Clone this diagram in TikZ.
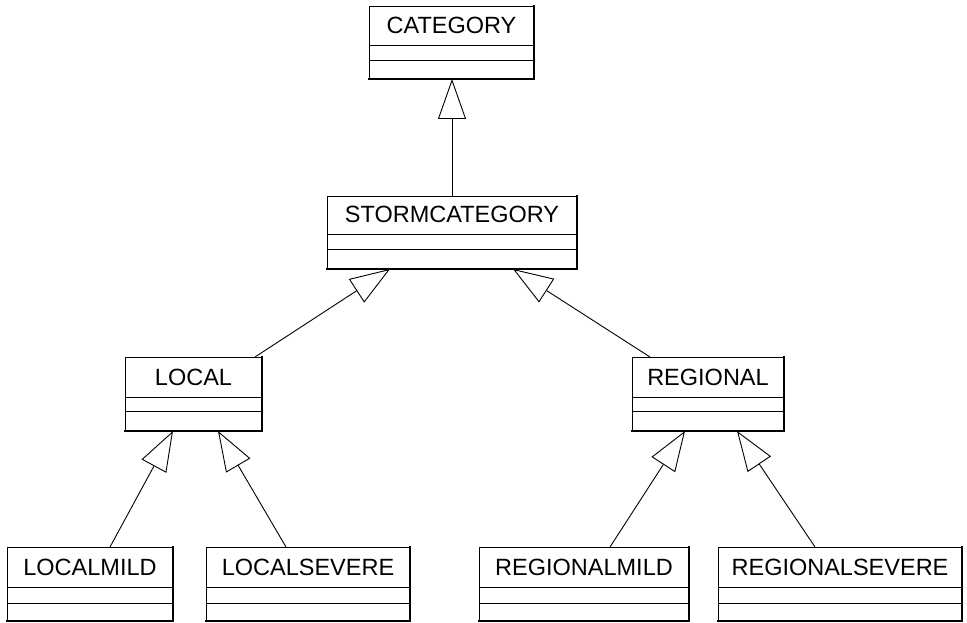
\documentclass[tikz,border=0pt]{standalone}
\usepackage{fontspec}
\setmainfont{Liberation Sans}
\usetikzlibrary{arrows.meta,calc}
\tikzset{
  classframe/.style={draw=black, line width=0.9pt, inner sep=0pt, outer sep=0pt, fill=white},
  classname/.style={anchor=base, inner sep=0pt, font=\fontsize{23.5}{26}\selectfont},
  divider/.style={draw=black, line width=0.9pt},
  shadowedge/.style={draw=black, line width=2pt, line cap=rect},
  inherit/.style={draw=black, line width=0.9pt, -{Triangle[open, length=40pt, width=28pt, line width=0.9pt, fill=white]}}
}
% #1 name, #2 x1, #3 y1, #4 x2, #5 y2, #6 div1, #7 div2, #8 text
\newcommand{\umlclassbox}[8]{%
  \node[classframe, minimum width={(#4-#2)*1pt}, minimum height={(#5-#3)*1pt}] (#1) at ({(#2+#4)/2},{(#3+#5)/2}) {};
  \draw[divider] (#2,#6) -- (#4,#6);
  \draw[divider] (#2,#7) -- (#4,#7);
  \draw[shadowedge] (#1.north east) -- (#1.south east) -- (#1.south west);
  \node[classname] (#1-t) at ({(#2+#4)/2},{#6-11.5}) {#8};
}
\begin{document}
\begin{tikzpicture}[x=1pt,y=-1pt]
\useasboundingbox (0,0) rectangle (967,623);
\umlclassbox{category}{369}{6}{534}{79}{45}{60}{CATEGORY}
\umlclassbox{storm}{327}{196}{577}{269}{234}{249}{STORMCATEGORY}
\umlclassbox{local}{125}{357}{262}{431}{397}{411}{LOCAL}
\umlclassbox{regional}{632}{357}{784}{431}{397}{411}{REGIONAL}
\umlclassbox{localmild}{7}{547}{173}{621}{587}{603}{LOCALMILD}
\umlclassbox{localsevere}{206}{547}{410}{621}{587}{603}{LOCALSEVERE}
\umlclassbox{regionalmild}{479}{547}{689}{621}{587}{603}{REGIONALMILD}
\umlclassbox{regionalsevere}{718}{547}{962}{621}{587}{603}{REGIONALSEVERE}
% inheritance connectors
\draw[inherit] (storm.north) -- (storm.north |- category.south);
\draw[inherit] ($(local.north west)+(130,0)$) -- ($(storm.south west)+(63,0)$);
\draw[inherit] ($(regional.north west)+(18,0)$) -- ($(storm.south west)+(186,0)$);
\draw[inherit] ($(localmild.north west)+(103,0)$) -- ($(local.south west)+(48,0)$);
\draw[inherit] ($(localsevere.north west)+(80,0)$) -- ($(local.south west)+(93,0)$);
\draw[inherit] ($(regionalmild.north west)+(131,0)$) -- ($(regional.south west)+(53,0)$);
\draw[inherit] ($(regionalsevere.north west)+(97,0)$) -- ($(regional.south west)+(105,0)$);
\end{tikzpicture}
\end{document}
